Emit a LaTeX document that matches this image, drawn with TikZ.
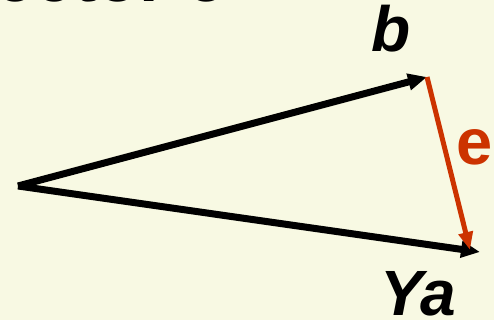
\documentclass[tikz,border=0pt]{standalone}
\usepackage{fontspec}
\setmainfont{Liberation Sans}
\usetikzlibrary{arrows.meta}
\definecolor{bgcream}{HTML}{F8F9E3}
\definecolor{evec}{HTML}{CC3300}
\tikzset{
  vec/.style={line width=7pt, -{Triangle[length=19pt,width=16pt]}},
  evecline/.style={evec, line width=5pt, -{Triangle[length=18pt,width=14pt]}},
  lbl/.style={inner sep=0pt, font=\fontsize{64}{64}\selectfont\bfseries\itshape}
}
\begin{document}
\begin{tikzpicture}[x=1pt,y=-1pt]
\fill[bgcream] (0,0) rectangle (494,320);
\useasboundingbox (0,0) rectangle (494,320);
\node[inner sep=0pt, anchor=base west, font=\fontsize{70}{70}\selectfont\bfseries] (title) at (-4.5,2) {ector e};
\coordinate (O) at (18,186);
\coordinate (B) at (427,77);
\coordinate (Y) at (480,252);
\coordinate (E) at (470,250);
\draw[vec] (O) -- (B);
\draw[vec] (O) -- (Y);
\draw[evecline] (B) -- (E);
\node[lbl, anchor=base west] (lb) at (371,52) {b};
\node[lbl, anchor=base west, evec, font=\fontsize{65}{65}\selectfont\bfseries] (le) at (456,165) {e};
\node[lbl, anchor=base west] (lya) at (380,315) {Ya};
\end{tikzpicture}
\end{document}
